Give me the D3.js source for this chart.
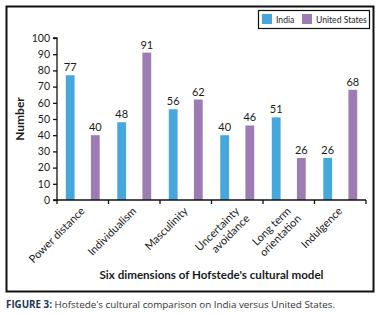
<!DOCTYPE html>
<html>
<head>
<meta charset="utf-8">
<script src="https://cdn.jsdelivr.net/npm/d3@7"></script>
<style>
  body { margin: 0; background: #fff; }
  svg text { font-family: Lato, "Liberation Sans", sans-serif; fill: #1a1a1a; }
</style>
</head>
<body>
<script>
// Hofstede's dimensions, India vs United States
var categories = ["Power distance", "Individualism", "Masculinity", "Uncertainty avoidance", "Long term orientation", "Indulgence"];
var labelLines = [["Power distance"], ["Individualism"], ["Masculinity"], ["Uncertainty", "avoidance"], ["Long term", "orientation"], ["Indulgence"]];
var seriesNames = ["India", "United States"];
var india = [77, 48, 56, 40, 51, 26];
var unitedStates = [40, 91, 62, 46, 26, 68];
var yTicks = [0, 10, 20, 30, 40, 50, 60, 70, 80, 90, 100];
var colors = ["#45a7db", "#9d7bb3"];

var W = 383, H = 316;
var margin = {top: 38, left: 57, right: 17, bottom: 116},
    width = W - margin.left - margin.right,
    height = H - margin.top - margin.bottom;

var svg = d3.select("body").append("svg")
    .attr("width", W)
    .attr("height", H);

// outer frame
svg.append("rect")
    .attr("x", 6.5).attr("y", 6.5)
    .attr("width", 367).attr("height", 285)
    .attr("fill", "none")
    .attr("stroke", "#111")
    .attr("stroke-width", 2);

var g = svg.append("g")
    .attr("transform", "translate(" + margin.left + "," + margin.top + ")");

var x = d3.scaleBand()
    .domain(categories)
    .range([0, width]);

var xs = d3.scaleBand()
    .domain(seriesNames)
    .range([0, x.bandwidth()])
    .paddingInner(0.65)
    .paddingOuter(0.35);

var y = d3.scaleLinear()
    .domain([0, 100])
    .range([height, 0]);

var rows = categories.map(function(c, i) {
  return {cat: c, vals: [{s: seriesNames[0], v: india[i]}, {s: seriesNames[1], v: unitedStates[i]}]};
});

var groups = g.selectAll(".grp")
    .data(rows)
    .enter().append("g")
    .attr("class", "grp")
    .attr("transform", function(d) { return "translate(" + x(d.cat) + ",0)"; });

groups.selectAll("rect")
    .data(function(d) { return d.vals; })
    .enter().append("rect")
    .attr("x", function(d) { return xs(d.s); })
    .attr("width", xs.bandwidth())
    .attr("y", function(d) { return y(d.v); })
    .attr("height", function(d) { return height - y(d.v); })
    .attr("fill", function(d, i) { return colors[i]; });

groups.selectAll(".val")
    .data(function(d) { return d.vals; })
    .enter().append("text")
    .attr("class", "val")
    .attr("x", function(d) { return xs(d.s) + xs.bandwidth() / 2; })
    .attr("y", function(d) { return y(d.v) - 4; })
    .attr("text-anchor", "middle")
    .style("font-size", "11px")
    .text(function(d) { return d.v; });

// y axis
var yAxis = g.append("g")
    .call(d3.axisLeft(y).tickValues(yTicks).tickSize(4).tickPadding(3));
yAxis.selectAll("text").style("font-size", "10.5px").attr("fill", "#1a1a1a");
yAxis.selectAll("line, path").attr("stroke", "#111").attr("stroke-width", 1.3);
yAxis.select(".domain").attr("d", "M-4,0H0V" + height + "H-4");

// x axis
var xAxis = g.append("g")
    .attr("transform", "translate(0," + height + ")")
    .call(d3.axisBottom(x).tickSize(0).tickFormat(""));
xAxis.select(".domain").attr("stroke", "#111").attr("stroke-width", 1.3)
    .attr("d", "M0,0H" + width);
xAxis.selectAll(".xt")
    .data(d3.range(categories.length + 1))
    .enter().append("line")
    .attr("class", "xt")
    .attr("x1", function(i) { return i * x.step(); })
    .attr("x2", function(i) { return i * x.step(); })
    .attr("y1", 0).attr("y2", 4)
    .attr("stroke", "#111").attr("stroke-width", 1.3);

var xl = xAxis.selectAll(".xl")
    .data(categories)
    .enter().append("text")
    .attr("class", "xl")
    .attr("text-anchor", "end")
    .attr("transform", function(d) { return "translate(" + (x(d) + x.bandwidth() / 2) + ",9) rotate(-45)"; })
    .style("font-size", "11px");
xl.each(function(d, i) {
  var t = d3.select(this);
  labelLines[i].forEach(function(line, k) {
    t.append("tspan").attr("x", k === 0 ? 0 : 2).attr("dy", k === 0 ? "0.35em" : "1.15em").text(line);
  });
});

// axis titles
g.append("text")
    .attr("transform", "translate(-33," + (height / 2) + ") rotate(-90)")
    .attr("text-anchor", "middle")
    .style("font-size", "12px")
    .style("font-weight", "bold")
    .text("Number");

g.append("text")
    .attr("x", width / 2)
    .attr("y", height + 79)
    .attr("text-anchor", "middle")
    .style("font-size", "11.6px")
    .style("font-weight", "bold")
    .text("Six dimensions of Hofstede's cultural model");

// legend
var legend = svg.append("g").attr("transform", "translate(258,10)");
legend.append("rect")
    .attr("x", 0.5).attr("y", 0.5)
    .attr("width", 111).attr("height", 18)
    .attr("fill", "#fff").attr("stroke", "#111").attr("stroke-width", 1.2);
var legX = [4, 44];
seriesNames.forEach(function(s, i) {
  legend.append("rect")
      .attr("x", legX[i]).attr("y", 4)
      .attr("width", 10).attr("height", 10)
      .attr("fill", colors[i]);
  legend.append("text")
      .attr("x", legX[i] + 14).attr("y", 12.5)
      .style("font-size", "8.6px")
      .text(s);
});

// caption
var cap = svg.append("text")
    .attr("x", 6).attr("y", 308)
    .style("font-family", "'Open Sans', sans-serif")
    .style("font-size", "9.8px");
cap.append("tspan").style("font-weight", "bold").attr("fill", "#1d3557").text("FIGURE 3:");
cap.append("tspan").attr("fill", "#333").text(" Hofstede's cultural comparison on India versus United States.");
</script>
</body>
</html>
